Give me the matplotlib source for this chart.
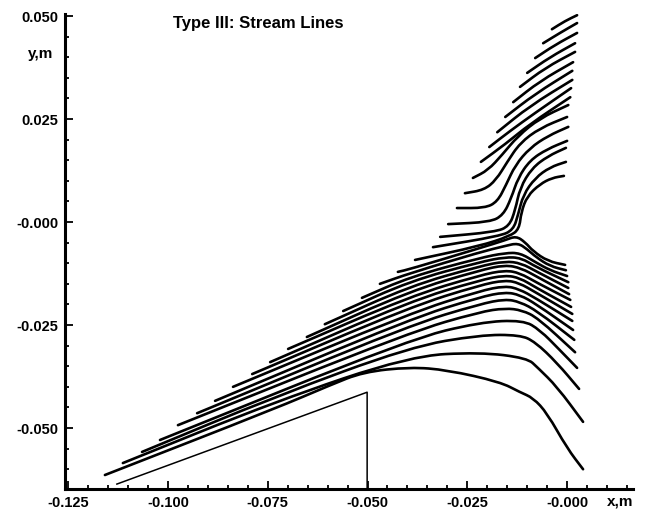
import matplotlib.pyplot as plt
from matplotlib.path import Path
from matplotlib.patches import PathPatch
from matplotlib.ticker import FixedLocator, FixedFormatter, MultipleLocator

plt.rcParams['font.family'] = ['Liberation Sans', 'DejaVu Sans']

# axis ticks
x_ticks = [-0.125, -0.100, -0.075, -0.050, -0.025, 0.0]
x_tick_labels = ['-0.125', '-0.100', '-0.075', '-0.050', '-0.025', '-0.000']
y_ticks = [0.050, 0.025, 0.0, -0.025, -0.050]
y_tick_labels = ['0.050', '0.025', '-0.000', '-0.025', '-0.050']

# body contour (wedge + step)
wedge_x = [-0.1128, -0.0501, -0.0501]
wedge_y = [-0.0636, -0.0413, -0.0648]

# upper fan: stream lines going to the upper right
fan_lines = [
    ([-0.0038, -0.0005, 0.0025], [0.0468, 0.0488, 0.0502]),
    ([-0.0060, -0.0018, 0.0025], [0.0434, 0.0459, 0.0483]),
    ([-0.0080, -0.0030, 0.0025], [0.0398, 0.0430, 0.0459]),
    ([-0.0100, -0.0043, 0.0020], [0.0362, 0.0400, 0.0434]),
    ([-0.0118, -0.0055, 0.0020], [0.0328, 0.0374, 0.0413]),
    ([-0.0135, -0.0068, 0.0015], [0.0291, 0.0342, 0.0388]),
    ([-0.0155, -0.0080, 0.0013], [0.0255, 0.0311, 0.0367]),
    ([-0.0175, -0.0093, 0.0013], [0.0218, 0.0282, 0.0345]),
    ([-0.0195, -0.0143, -0.0080, 0.0010], [0.0182, 0.0221, 0.0265, 0.0325]),
    ([-0.0216, -0.0155, -0.0093, 0.0008], [0.0146, 0.0189, 0.0238, 0.0303]),
]

# lines turning up along the left side of the cylinder
bend_lines = [
    ([-0.0236, -0.0198, -0.0163, -0.0123, -0.0068, 0.0003],
     [0.0107, 0.0126, 0.0163, 0.0209, 0.0252, 0.0284]),
    ([-0.0256, -0.0208, -0.0178, -0.0150, -0.0118, -0.0068, 0.0],
     [0.0070, 0.0078, 0.0102, 0.0146, 0.0192, 0.0228, 0.0255]),
    ([-0.0276, -0.0206, -0.0175, -0.0153, -0.0130, -0.0093, -0.0048, 0.0003],
     [0.0034, 0.0034, 0.0049, 0.0090, 0.0138, 0.0180, 0.0209, 0.0231]),
    ([-0.0298, -0.0193, -0.0160, -0.0140, -0.0123, -0.0093, -0.0050, 0.0],
     [-0.0005, 0.0, 0.0017, 0.0058, 0.0107, 0.0150, 0.0177, 0.0197]),
    ([-0.0318, -0.0180, -0.0145, -0.0130, -0.0118, -0.0088, -0.0048, -0.0003],
     [-0.0036, -0.0024, -0.0010, 0.0029, 0.0083, 0.0131, 0.0160, 0.0180]),
    ([-0.0336, -0.0168, -0.0135, -0.0123, -0.0110, -0.0080, -0.0043, -0.0003],
     [-0.0061, -0.0034, -0.0019, 0.0017, 0.0066, 0.0107, 0.0133, 0.0146]),
    ([-0.0381, -0.0218, -0.0143, -0.0120, -0.0115, -0.0100, -0.0068, -0.0038, -0.0008],
     [-0.0092, -0.0058, -0.0034, -0.0017, 0.0024, 0.0063, 0.0092, 0.0107, 0.0112]),
]

# lower band: lines along the wedge, turning down past the cylinder
band_lines = [
    ([-0.1158, -0.0727, -0.0594, -0.0511, -0.0393, -0.0301, -0.0168, -0.0118, -0.0085, -0.0050, 0.0, 0.0040],
     [-0.0614, -0.0451, -0.0396, -0.0364, -0.0352, -0.0359, -0.0388, -0.0413, -0.0427, -0.0464, -0.0549, -0.0600]),
    ([-0.1113, -0.0727, -0.0393, -0.0218, -0.0100, -0.0073, -0.0025, 0.0040],
     [-0.0585, -0.0434, -0.0325, -0.0316, -0.0330, -0.0354, -0.0400, -0.0485]),
    ([-0.1065, -0.0727, -0.0393, -0.0218, -0.0118, -0.0080, -0.0025, 0.0030],
     [-0.0558, -0.0422, -0.0303, -0.0274, -0.0274, -0.0291, -0.0342, -0.0405]),
    ([-0.1020, -0.0393, -0.0218, -0.0110, -0.0068, -0.0018, 0.0025],
     [-0.0529, -0.0284, -0.0243, -0.0238, -0.0262, -0.0311, -0.0354]),
    ([-0.0975, -0.0393, -0.0218, -0.0155, -0.0113, -0.0073, 0.0020],
     [-0.0493, -0.0267, -0.0218, -0.0209, -0.0214, -0.0233, -0.0316]),
    ([-0.0927, -0.0393, -0.0218, -0.0155, -0.0118, -0.0075, 0.0018],
     [-0.0464, -0.0250, -0.0199, -0.0187, -0.0194, -0.0216, -0.0286]),
    ([-0.0882, -0.0393, -0.0218, -0.0155, -0.0118, -0.0078, 0.0015],
     [-0.0434, -0.0235, -0.0182, -0.0170, -0.0177, -0.0199, -0.0262]),
    ([-0.0837, -0.0393, -0.0218, -0.0155, -0.0120, -0.0080, 0.0013],
     [-0.0400, -0.0221, -0.0167, -0.0155, -0.0163, -0.0184, -0.0240]),
    ([-0.0789, -0.0393, -0.0218, -0.0155, -0.0120, -0.0080, 0.0013],
     [-0.0369, -0.0206, -0.0153, -0.0141, -0.0148, -0.0170, -0.0223]),
    ([-0.0744, -0.0393, -0.0218, -0.0155, -0.0118, -0.0080, 0.0010],
     [-0.0340, -0.0192, -0.0141, -0.0129, -0.0136, -0.0158, -0.0206]),
    ([-0.0699, -0.0393, -0.0218, -0.0155, -0.0118, -0.0078, 0.0008],
     [-0.0308, -0.0180, -0.0129, -0.0117, -0.0124, -0.0146, -0.0189]),
    ([-0.0652, -0.0393, -0.0218, -0.0155, -0.0115, -0.0075, 0.0005],
     [-0.0279, -0.0167, -0.0117, -0.0104, -0.0112, -0.0133, -0.0175]),
    ([-0.0607, -0.0393, -0.0218, -0.0155, -0.0115, -0.0075, 0.0003],
     [-0.0248, -0.0155, -0.0107, -0.0095, -0.0100, -0.0121, -0.0160]),
    ([-0.0561, -0.0393, -0.0218, -0.0155, -0.0115, -0.0078, 0.0003],
     [-0.0216, -0.0143, -0.0097, -0.0085, -0.0087, -0.0109, -0.0146]),
    ([-0.0514, -0.0393, -0.0218, -0.0155, -0.0118, -0.0080, -0.0043, 0.0],
     [-0.0184, -0.0133, -0.0087, -0.0075, -0.0075, -0.0097, -0.0117, -0.0131]),
    ([-0.0469, -0.0393, -0.0218, -0.0155, -0.0123, -0.0100, -0.0078, -0.0043, -0.0003],
     [-0.0150, -0.0124, -0.0073, -0.0058, -0.0051, -0.0066, -0.0085, -0.0107, -0.0117]),
    ([-0.0424, -0.0393, -0.0218, -0.0155, -0.0128, -0.0105, -0.0085, -0.0048, -0.0005],
     [-0.0121, -0.0114, -0.0063, -0.0044, -0.0034, -0.0049, -0.0071, -0.0095, -0.0104]),
]


def smooth_path(xs, ys):
    # quadratic spline: read points act as control points, corners rounded
    pts = list(zip(xs, ys))
    if len(pts) < 3:
        return Path(pts)
    verts = [pts[0]]
    codes = [Path.MOVETO]
    mids = [((pts[i][0] + pts[i + 1][0]) / 2, (pts[i][1] + pts[i + 1][1]) / 2)
            for i in range(len(pts) - 1)]
    verts.append(mids[0])
    codes.append(Path.LINETO)
    for i in range(1, len(pts) - 1):
        verts += [pts[i], mids[i]]
        codes += [Path.CURVE3, Path.CURVE3]
    verts.append(pts[-1])
    codes.append(Path.LINETO)
    return Path(verts, codes)


fig = plt.figure(figsize=(6.48, 5.14), dpi=100)
ax = fig.add_axes([0.1003, 0.0486, 0.8765, 0.9242])

for xs, ys in fan_lines + bend_lines + band_lines:
    ax.add_patch(PathPatch(smooth_path(xs, ys), fill=False, edgecolor='black',
                           lw=1.9, capstyle='round', joinstyle='round'))
ax.plot(wedge_x, wedge_y, color='black', lw=1.1)

ax.set_xlim(-0.1258, 0.0165)
ax.set_ylim(-0.0648, 0.0505)

ax.spines['top'].set_visible(False)
ax.spines['right'].set_visible(False)
ax.spines['left'].set_linewidth(2.2)
ax.spines['bottom'].set_linewidth(2.2)

ax.xaxis.set_major_locator(FixedLocator(x_ticks))
ax.xaxis.set_major_formatter(FixedFormatter(x_tick_labels))
ax.yaxis.set_major_locator(FixedLocator(y_ticks))
ax.yaxis.set_major_formatter(FixedFormatter(y_tick_labels))
ax.xaxis.set_minor_locator(MultipleLocator(0.005))
ax.yaxis.set_minor_locator(MultipleLocator(0.005))
ax.tick_params(which='both', direction='in', width=1.3, color='black')
ax.tick_params(which='major', length=6, pad=5, labelsize=10.5)
ax.tick_params(which='minor', length=3)
for lab in ax.get_xticklabels() + ax.get_yticklabels():
    lab.set_fontweight('bold')

ax.text(0.19, 0.981, 'Type III: Stream Lines', transform=ax.transAxes,
        fontsize=12, fontweight='bold', ha='left', va='center')
ax.text(-0.1288, 0.0408, 'y,m', fontsize=11, fontweight='bold', ha='right', va='center')
ax.text(0.0133, -0.0678, 'x,m', fontsize=11, fontweight='bold', ha='center', va='center')

fig.savefig('out.png', dpi=100)
